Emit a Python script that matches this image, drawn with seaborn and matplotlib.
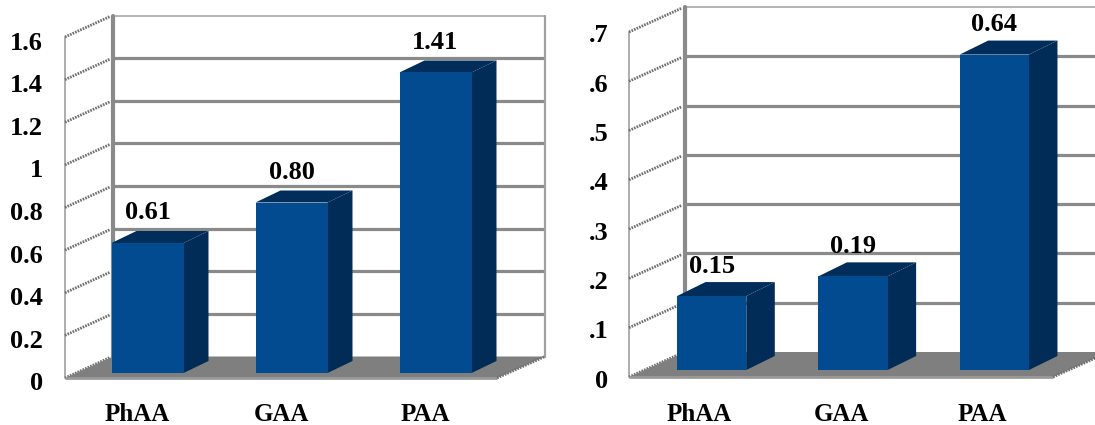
import matplotlib
matplotlib.use("Agg")
import matplotlib.pyplot as plt
import pandas as pd
import seaborn as sns
from matplotlib.patches import Polygon
from matplotlib.transforms import Affine2D

categories = ["PhAA", "GAA", "PAA"]
left_values = [0.61, 0.80, 1.41]
right_values = [0.15, 0.19, 0.64]
left_labels = ["0.61", "0.80", "1.41"]
right_labels = ["0.15", "0.19", "0.64"]
left_ticks = [0, 0.2, 0.4, 0.6, 0.8, 1.0, 1.2, 1.4, 1.6]
left_ticklabels = ["0", "0.2", "0.4", "0.6", "0.8", "1", "1.2", "1.4", "1.6"]
right_ticks = [0, 0.1, 0.2, 0.3, 0.4, 0.5, 0.6, 0.7]
right_ticklabels = ["0", ".1", ".2", ".3", ".4", ".5", ".6", ".7"]

FRONT = "#024B90"
SIDE = "#002C57"
TOP = "#012D5A"
FLOOR = "#7F7F7F"
GRID = "#8A8A8A"
FONT = "Liberation Serif"
TEXT_SIZE = 19
CATEGORY_SIZE = 18

W, H = 1095, 425
sns.set_theme(style="white")
plt.rcParams["font.family"] = FONT
fig = plt.figure(figsize=(W / 100, H / 100), dpi=100, facecolor="white")


def shifted(base, dx, dy):
    """Base transform moved dx pixels right and dy pixels up."""
    return base + Affine2D().translate(dx, dy)


def draw_panel(box, values, labels, ticks, ticklabels, wall, bar_shift, depth,
               width, pad_y, pad_x, tick_dy):
    left, top, right, bottom = box
    ax = fig.add_axes([left / W, (H - bottom) / H, (right - left) / W, (bottom - top) / H])
    frame = pd.DataFrame({"compound": categories, "value": values})
    sns.barplot(data=frame, x="compound", y="value", color=FRONT, saturation=1,
                width=width, ax=ax, zorder=6)
    ax.set_xlim(-0.5, 2.5)
    ax.set_ylim(ticks[0], ticks[-1])
    ax.set_xlabel("")
    ax.set_ylabel("")
    ax.patch.set_visible(False)
    sns.despine(ax=ax, left=True, bottom=True)

    wall_dx, wall_dy = wall
    back = shifted(ax.transData, wall_dx, wall_dy)
    back_axes = shifted(ax.transAxes, wall_dx, wall_dy)

    # floor of the chart box
    corners = [ax.transAxes.transform(p) for p in [(0, 0), (1, 0)]]
    corners += [back_axes.transform(p) for p in [(1, 0), (0, 0)]]
    ax.add_patch(Polygon(corners, closed=True, transform=None, facecolor=FLOOR,
                         edgecolor="none", zorder=3, clip_on=False))
    ax.plot([0, 1], [0, 0], transform=ax.transAxes, color="#9A9A9A", lw=2,
            clip_on=False, zorder=4, solid_capstyle="butt")

    # back wall gridlines and frame
    for i, tick in enumerate(ticks):
        if i == 0:
            continue
        last = i == len(ticks) - 1
        ax.plot([-0.5, 2.5], [tick, tick], transform=back, color="#A0A0A0" if last else GRID,
                lw=1.1 if last else 2.3, clip_on=False, zorder=2, solid_capstyle="butt")
    ax.plot([0, 0], [0, 1], transform=back_axes, color=GRID, lw=3, clip_on=False, zorder=2)
    ax.plot([1, 1], [0, 1], transform=back_axes, color="#A0A0A0", lw=1.6, clip_on=False, zorder=2)

    # left wall: front edge plus slanted gridlines
    ax.plot([0, 0], [0, 1], transform=ax.transAxes, color="#A0A0A0", lw=1.2, clip_on=False, zorder=2)
    for tick in ticks:
        start = ax.transData.transform((-0.5, tick))
        end = back.transform((-0.5, tick))
        ax.plot([start[0], end[0] - 3], [start[1], end[1] - 1], transform=None, color="#707070",
                lw=2, ls=(0, (0.6, 0.4)), clip_on=False, zorder=2)
    start = ax.transAxes.transform((1, 0))
    end = back_axes.transform((1, 0))
    ax.plot([start[0], end[0]], [start[1], end[1]], transform=None, color="#707070",
            lw=2, ls=(0, (0.6, 0.4)), clip_on=False, zorder=4)

    # solid bar sides, tops and labels, all derived from the bars themselves
    bar_dx, bar_dy = bar_shift
    depth_dx, depth_dy = depth
    plane = shifted(ax.transData, bar_dx, bar_dy)
    for bar, label in zip(ax.patches[:3], labels):
        x0, x1 = bar.get_x(), bar.get_x() + bar.get_width()
        height = bar.get_height()
        bar.set_transform(plane)
        bar.set_edgecolor("none")
        bar.set_clip_on(False)
        bar.set_zorder(7)
        lr = plane.transform((x1, 0))
        tl = plane.transform((x0, height))
        tr = plane.transform((x1, height))
        off = (depth_dx, depth_dy)
        ax.add_patch(Polygon([lr, tr, tr + off, lr + off], closed=True, transform=None,
                             facecolor=SIDE, edgecolor="none", clip_on=False, zorder=6))
        ax.add_patch(Polygon([tl, tr, tr + off, tl + off], closed=True, transform=None,
                             facecolor=TOP, edgecolor="none", clip_on=False, zorder=6))
        ax.text((x0 + x1) / 2, height, label, transform=shifted(plane, 0, 30), ha="center",
                va="center", fontsize=TEXT_SIZE, fontweight="bold", color="black", family=FONT,
                zorder=9, clip_on=False)

    ax.set_yticks(ticks)
    ax.set_yticklabels(ticklabels, fontsize=TEXT_SIZE, fontweight="bold", color="black", family=FONT)
    ax.set_xticks(range(len(categories)))
    ax.set_xticklabels(categories, fontsize=CATEGORY_SIZE, fontweight="bold", color="black", family=FONT)
    ax.tick_params(axis="both", length=0)
    ax.tick_params(axis="y", pad=pad_y)
    ax.tick_params(axis="x", pad=pad_x)
    for tick_label in ax.get_yticklabels():
        tick_label.set_transform(shifted(tick_label.get_transform(), 0, tick_dy))
    return ax


draw_panel((65, 37, 497, 378), left_values, left_labels, left_ticks, left_ticklabels,
           wall=(48, 21.5), bar_shift=(10.5, 5), depth=(25, 12), width=0.5,
           pad_y=16, pad_x=18, tick_dy=-3.5)
draw_panel((629, 32, 1053, 377), right_values, right_labels, right_ticks, right_ticklabels,
           wall=(56, 25), bar_shift=(12, 7), depth=(28.5, 14), width=0.49,
           pad_y=15, pad_x=18.5, tick_dy=-1.5)

fig.savefig("out.png", dpi=100, facecolor="white")
